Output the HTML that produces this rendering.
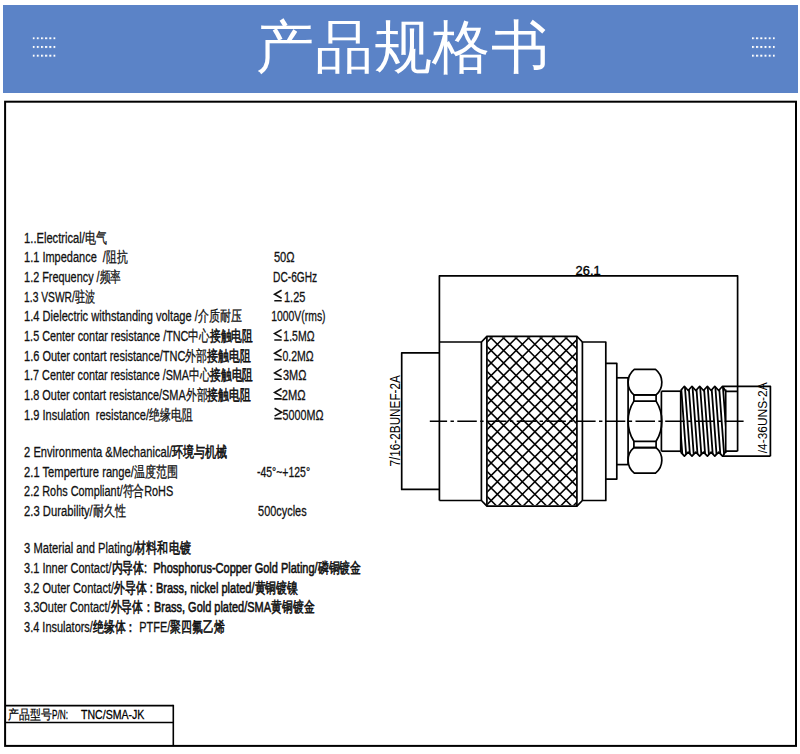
<!DOCTYPE html>
<html>
<head>
<meta charset="utf-8">
<style>
html,body{margin:0;padding:0;background:#fff;}
body{width:800px;height:754px;position:relative;overflow:hidden;font-family:"Liberation Sans",sans-serif;}
.banner{position:absolute;left:3px;top:5px;width:795px;height:88px;background:#5b83c7;}
svg{position:absolute;left:0;top:0;}
</style>
</head>
<body>
<div class="banner"></div>
<svg width="800" height="754" viewBox="0 0 800 754">
  <defs>
    <pattern id="dots" x="32.6" y="37.2" width="4.18" height="8.75" patternUnits="userSpaceOnUse">
      <rect x="0" y="0" width="2" height="2" fill="#fff"/>
    </pattern>
    <pattern id="dots2" x="751.9" y="37.2" width="4.2" height="8.75" patternUnits="userSpaceOnUse">
      <rect x="0" y="0" width="2" height="2" fill="#fff"/>
    </pattern>
    <clipPath id="knurlclip"><rect x="487.3" y="337.2" width="89" height="168"/></clipPath>
    <clipPath id="threadclip"><path d="M680.7,390.5 L684.4,386.3 L688.2,390.5 L692,386.3 L695.8,390.5 L699.7,386.3 L703.5,390.5 L707.4,386.3 L711.1,390.5 L714.8,386.3 L718.7,390.5 L722.5,386.3 L725.7,389.5 L725.7,453 L722.5,456.2 L718.7,452.2 L714.8,456.2 L711.1,452.2 L707.4,456.2 L703.5,452.2 L699.7,456.2 L695.8,452.2 L692,456.2 L688.2,452.2 L684.4,456.2 L680.7,452.2 Z"/></clipPath>
  </defs>
  <rect x="32.6" y="37.2" width="23" height="20" fill="url(#dots)"/>
  <rect x="751.9" y="37.2" width="23" height="20" fill="url(#dots2)"/>
  <text x="255.8" y="66.6" font-size="57.5" letter-spacing="0.9" fill="#fff">产品规格书</text>

  <rect x="5.1" y="101.7" width="790.9" height="644.2" fill="none" stroke="#000" stroke-width="2"/>
  <g stroke="#000" stroke-width="1.6" fill="none">
    <line x1="5" y1="705.6" x2="173.3" y2="705.6"/>
    <line x1="5" y1="722.5" x2="173.3" y2="722.5"/>
    <line x1="173.3" y1="704.8" x2="173.3" y2="746"/>
  </g>
  <text x="8.4" y="719" font-size="12.5" textLength="43.6" lengthAdjust="spacingAndGlyphs" fill="#000" stroke="#000" stroke-width="0.25">产品型号</text>
  <text x="52" y="718.6" font-size="13.2" textLength="16" lengthAdjust="spacingAndGlyphs" fill="#000" stroke="#000" stroke-width="0.3">P/N:</text>
  <text x="81" y="718.6" font-size="13.2" textLength="63.4" lengthAdjust="spacingAndGlyphs" fill="#000" stroke="#000" stroke-width="0.3">TNC/SMA-JK</text>

  <g font-size="15.2" fill="#111" stroke="#111" stroke-width="0.3">
        <text x="24.10" y="242.80" textLength="82.80" lengthAdjust="spacingAndGlyphs">1..Electrical/电气</text>
    <text x="24.10" y="262.40" textLength="103.50" lengthAdjust="spacingAndGlyphs">1.1 Impedance&#160; /阻抗</text>
    <text x="24.10" y="282.10" textLength="97.00" lengthAdjust="spacingAndGlyphs">1.2 Frequency /频率</text>
    <text x="24.10" y="301.70" textLength="71.00" lengthAdjust="spacingAndGlyphs">1.3 VSWR/驻波</text>
    <text x="24.10" y="321.40" textLength="217.50" lengthAdjust="spacingAndGlyphs">1.4 Dielectric withstanding voltage /介质耐压</text>
    <text x="24.10" y="341.00" textLength="228.50" lengthAdjust="spacingAndGlyphs">1.5 Center contar resistance /TNC中心<tspan stroke-width="0.6">接触电阻</tspan></text>
    <text x="24.10" y="360.60" textLength="226.50" lengthAdjust="spacingAndGlyphs">1.6 Outer contart resistance/TNC外部<tspan stroke-width="0.6">接触电阻</tspan></text>
    <text x="24.10" y="380.30" textLength="228.90" lengthAdjust="spacingAndGlyphs">1.7 Center contar resistance /SMA中心<tspan stroke-width="0.6">接触电阻</tspan></text>
    <text x="24.10" y="399.90" textLength="226.50" lengthAdjust="spacingAndGlyphs">1.8 Outer contart resistance/SMA外部<tspan stroke-width="0.6">接触电阻</tspan></text>
    <text x="24.10" y="419.60" textLength="168.50" lengthAdjust="spacingAndGlyphs">1.9 Insulation&#160; resistance/绝缘电阻</text>
    <text x="24.10" y="457.10" textLength="203.20" lengthAdjust="spacingAndGlyphs">2 Environmenta &amp;Mechanical/<tspan stroke-width="0.6">环境与机械</tspan></text>
    <text x="24.10" y="476.70" textLength="153.90" lengthAdjust="spacingAndGlyphs">2.1 Temperture range/温度范围</text>
    <text x="24.10" y="496.30" textLength="149.10" lengthAdjust="spacingAndGlyphs">2.2 Rohs Compliant/符合RoHS</text>
    <text x="24.10" y="515.90" textLength="101.90" lengthAdjust="spacingAndGlyphs">2.3 Durability/耐久性</text>
    <text x="24.10" y="553.40" textLength="166.50" lengthAdjust="spacingAndGlyphs">3 Material and Plating/<tspan stroke-width="0.6">材料和电镀</tspan></text>
    <text x="24.10" y="573.00" textLength="337.00" lengthAdjust="spacingAndGlyphs">3.1 Inner Contact/<tspan stroke-width="0.6">内导体:&#160; Phosphorus-Copper Gold Plating/磷铜镀金</tspan></text>
    <text x="24.10" y="592.50" textLength="274.00" lengthAdjust="spacingAndGlyphs">3.2 Outer Contact/<tspan stroke-width="0.6">外导体 : Brass, nickel plated/黄铜镀镍</tspan></text>
    <text x="24.10" y="612.10" textLength="290.25" lengthAdjust="spacingAndGlyphs">3.3Outer Contact/<tspan stroke-width="0.6">外导体：Brass, Gold plated/SMA黄铜镀金</tspan></text>
    <text x="24.10" y="631.60" textLength="200.25" lengthAdjust="spacingAndGlyphs">3.4 Insulators/<tspan stroke-width="0.6">绝缘体：</tspan> PTFE/<tspan stroke-width="0.6">聚四氟乙烯</tspan></text>
    <text x="273.90" y="262.40" textLength="20.70" lengthAdjust="spacingAndGlyphs">50Ω</text>
    <text x="273.10" y="282.10" textLength="44.00" lengthAdjust="spacingAndGlyphs">DC-6GHz</text>
    <text x="284.00" y="301.70" textLength="21.35" lengthAdjust="spacingAndGlyphs">1.25</text>
    <text x="271.20" y="321.40" textLength="54.40" lengthAdjust="spacingAndGlyphs">1000V(rms)</text>
    <text x="283.35" y="341.00" textLength="31.15" lengthAdjust="spacingAndGlyphs">1.5MΩ</text>
    <text x="282.40" y="360.60" textLength="31.20" lengthAdjust="spacingAndGlyphs">0.2MΩ</text>
    <text x="283.00" y="380.30" textLength="23.40" lengthAdjust="spacingAndGlyphs">3MΩ</text>
    <text x="281.80" y="399.90" textLength="23.80" lengthAdjust="spacingAndGlyphs">2MΩ</text>
    <text x="282.60" y="419.60" textLength="40.90" lengthAdjust="spacingAndGlyphs">5000MΩ</text>
    <text x="256.90" y="476.70" textLength="53.20" lengthAdjust="spacingAndGlyphs">-45°~+125°</text>
    <text x="258.10" y="515.90" textLength="48.50" lengthAdjust="spacingAndGlyphs">500cycles</text>
  </g>
  <path d="M281.6,290.3 L274.6,294.3 L281.6,298.2 M274.3,300.7 L281.70000000000005,300.7" fill="none" stroke="#111" stroke-width="1.6" stroke-linejoin="miter"/><path d="M281.6,329.6 L274.6,333.6 L281.6,337.5 M274.3,340.0 L281.70000000000005,340.0" fill="none" stroke="#111" stroke-width="1.6" stroke-linejoin="miter"/><path d="M281.6,349.2 L274.6,353.2 L281.6,357.1 M274.3,359.6 L281.70000000000005,359.6" fill="none" stroke="#111" stroke-width="1.6" stroke-linejoin="miter"/><path d="M281.6,368.9 L274.6,372.9 L281.6,376.8 M274.3,379.3 L281.70000000000005,379.3" fill="none" stroke="#111" stroke-width="1.6" stroke-linejoin="miter"/><path d="M281.6,388.5 L274.6,392.5 L281.6,396.4 M274.3,398.9 L281.70000000000005,398.9" fill="none" stroke="#111" stroke-width="1.6" stroke-linejoin="miter"/><path d="M274.6,408.2 L281.6,412.2 L274.6,416.1 M274.3,418.6 L281.70000000000005,418.6" fill="none" stroke="#111" stroke-width="1.6" stroke-linejoin="miter"/>

  <g stroke="#000" stroke-width="1.7" fill="none" stroke-linejoin="round">
    <polyline points="439.4,500.5 439.4,275.8 737.6,275.8 737.6,451.2"/>
    <polyline points="439.4,352.8 401.7,352.8 401.7,489.4 439.4,489.4"/>
    <polyline points="439.4,342 481.4,342 486.9,336.3"/>
    <polyline points="439.4,500.5 481.4,500.5 486.9,506.1"/>
    <line x1="481.4" y1="342" x2="481.4" y2="500.5"/>
    <rect x="486.9" y="336.3" width="90" height="169.8"/>
    <polyline points="576.9,336.3 582.4,342 605.8,342 605.8,500.5 582.4,500.5 576.9,506.1"/>
    <line x1="582.4" y1="342" x2="582.4" y2="500.5"/>
    <polyline points="605.8,363.3 616.8,363.3 616.8,479.1 605.8,479.1"/>
    <polyline points="616.8,377.8 628.1,377.8"/>
    <polyline points="616.8,464.6 628.1,464.6"/>
    <line x1="628.1" y1="377.8" x2="628.1" y2="464.6"/>
    <path d="M634.3,369.3 L655.5,369.3 A16.5,16.5 0 0 1 656.1,394.8 L633.9,394.8 A16.5,16.5 0 0 1 634.3,369.3 Z"/>
    <rect x="633.9" y="394.8" width="22.2" height="6.3"/>
    <path d="M633.9,401.1 A37.7,37.7 0 0 0 633.9,441.3 M656.1,401.1 A38,38 0 0 1 656.1,441.3"/>
    <rect x="633.9" y="441.3" width="22.2" height="6.3"/>
    <path d="M634.3,473.1 L655.5,473.1 A16.5,16.5 0 0 0 656.1,447.6 L633.9,447.6 A16.5,16.5 0 0 0 634.3,473.1 Z"/>
    <line x1="661.4" y1="391.2" x2="661.4" y2="451.2"/>
    <line x1="661.4" y1="391.2" x2="680.7" y2="391.2"/>
    <line x1="661.4" y1="451.2" x2="680.7" y2="451.2"/>
    <path d="M680.7,390.5 L684.4,386.3 L688.2,390.5 L692,386.3 L695.8,390.5 L699.7,386.3 L703.5,390.5 L707.4,386.3 L711.1,390.5 L714.8,386.3 L718.7,390.5 L722.5,386.3 L770.4,386.3 L770.4,456.2"/>
    <path d="M680.7,452.2 L684.4,456.2 L688.2,452.2 L692,456.2 L695.8,452.2 L699.7,456.2 L703.5,452.2 L707.4,456.2 L711.1,452.2 L714.8,456.2 L718.7,452.2 L722.5,456.2 L770.4,456.2"/>
    <line x1="680.7" y1="390.5" x2="680.7" y2="452.2"/>
    <line x1="725.7" y1="389.5" x2="725.7" y2="453"/>
    <polyline points="722.8,386.3 725.7,391.4 737.6,391.4"/>
    <polyline points="722.8,456.2 725.7,451.2 737.6,451.2"/>
  </g>
  <g clip-path="url(#knurlclip)" stroke="#000" stroke-width="1.5"><path d="M480,336.6L585,231.6M480,349.1L585,244.1M480,361.6L585,256.6M480,374.1L585,269.1M480,386.6L585,281.6M480,399.1L585,294.1M480,411.6L585,306.6M480,424.1L585,319.1M480,436.6L585,331.6M480,449.1L585,344.1M480,461.6L585,356.6M480,474.1L585,369.1M480,486.6L585,381.6M480,499.1L585,394.1M480,511.6L585,406.6M480,524.1L585,419.1M480,536.6L585,431.6M480,549.1L585,444.1M480,561.6L585,456.6M480,574.1L585,469.1M480,586.6L585,481.6M480,599.1L585,494.1M480,611.6L585,506.6M480,501.9L585,606.9M480,489.4L585,594.4M480,476.9L585,581.9M480,464.4L585,569.4M480,451.9L585,556.9M480,439.4L585,544.4M480,426.9L585,531.9M480,414.4L585,519.4M480,401.9L585,506.9M480,389.4L585,494.4M480,376.9L585,481.9M480,364.4L585,469.4M480,351.9L585,456.9M480,339.4L585,444.4M480,326.9L585,431.9M480,314.4L585,419.4M480,301.9L585,406.9M480,289.4L585,394.4M480,276.9L585,381.9M480,264.4L585,369.4M480,251.9L585,356.9M480,239.4L585,344.4M480,226.9L585,331.9"/></g>
  <g clip-path="url(#threadclip)" stroke="#000" stroke-width="1.8"><path d="M665.7,384L671.2,458M669.5,384L675.0,458M673.3,384L678.8,458M677.1,384L682.6,458M680.9,384L686.4,458M684.7,384L690.2,458M688.5,384L694.0,458M692.3,384L697.8,458M696.1,384L701.6,458M699.9,384L705.4,458M703.7,384L709.2,458M707.5,384L713.0,458M711.3,384L716.8,458M715.1,384L720.6,458M718.9,384L724.4,458M722.7,384L728.2,458M726.5,384L732.0,458M730.3,384L735.8,458M734.1,384L739.6,458M737.9,384L743.4,458"/></g>
  <line x1="429.8" y1="421.2" x2="743.6" y2="421.2" stroke="#000" stroke-width="1.5" stroke-dasharray="19.5 3.4 3.4 3.4" stroke-dashoffset="2.2"/>
  <text x="575.6" y="274.6" font-size="13" textLength="25" lengthAdjust="spacingAndGlyphs" fill="#000" stroke="#000" stroke-width="0.35">26.1</text>
  <text transform="translate(399.9,466.5) rotate(-90)" x="0" y="0" font-size="13.8" textLength="91.4" lengthAdjust="spacingAndGlyphs" fill="#000">7/16-2BUNEF-2A</text>
  <text transform="translate(767.2,453.2) rotate(-90)" x="0" y="0" font-size="13" textLength="70.8" lengthAdjust="spacingAndGlyphs" fill="#000">/4-36UNS-2A</text>
</svg>
</body>
</html>
